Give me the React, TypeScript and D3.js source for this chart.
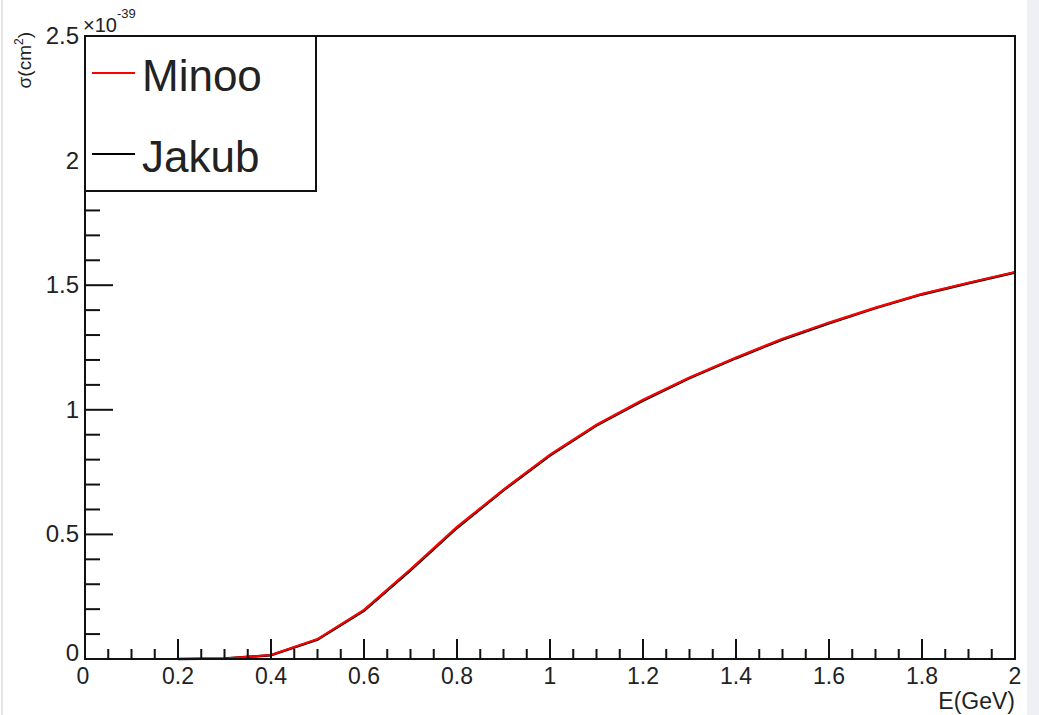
import React from "react";
import * as d3 from "d3";

// cross section vs energy (units of 1e-39 cm^2)
const energy = [0.2, 0.3, 0.4, 0.5, 0.6, 0.7, 0.8, 0.9, 1.0, 1.1, 1.2, 1.3, 1.4, 1.5, 1.6, 1.7, 1.8, 1.9, 2.0];
const minoo = [0, 0.002, 0.016, 0.08, 0.197, 0.36, 0.53, 0.68, 0.82, 0.94, 1.04, 1.13, 1.21, 1.285, 1.35, 1.41, 1.465, 1.51, 1.553];
const jakub = [0, 0.002, 0.015, 0.078, 0.194, 0.356, 0.526, 0.677, 0.817, 0.937, 1.037, 1.127, 1.207, 1.282, 1.347, 1.408, 1.463, 1.508, 1.551];

const xMajor = [0, 0.2, 0.4, 0.6, 0.8, 1, 1.2, 1.4, 1.6, 1.8, 2];
const xLabels = ["0", "0.2", "0.4", "0.6", "0.8", "1", "1.2", "1.4", "1.6", "1.8", "2"];
const yMajor = [0, 0.5, 1, 1.5, 2, 2.5];
const yLabels = ["0", "0.5", "1", "1.5", "2", "2.5"];

const legendItems = [
  { name: "Minoo", color: "#ff0000" },
  { name: "Jakub", color: "#000000" },
];

const W = 1039;
const H = 715;
const left = 85, right = 1015, top = 36, bottom = 659;
const font = "'Liberation Sans', Arial, sans-serif";
const txt = "#222";

export default function App() {
  const x = d3.scaleLinear().domain([0, 2]).range([left, right]);
  const y = d3.scaleLinear().domain([0, 2.5]).range([bottom, top]);

  const xMinor = d3.range(0, 2.0001, 0.05).filter(v => Math.abs(v / 0.2 - Math.round(v / 0.2)) > 1e-6);
  const yMinor = d3.range(0, 2.5001, 0.1).filter(v => Math.abs(v / 0.5 - Math.round(v / 0.5)) > 1e-6);

  const line = d3.line<number>()
    .x((d, i) => x(energy[i]))
    .y(d => y(d))
    .curve(d3.curveLinear);

  return (
    <svg width={W} height={H} style={{ position: "absolute", left: 0, top: 0, background: "#fff" }}>
      {/* screenshot edges */}
      <rect x={1027} y={0} width={12} height={H} fill="#eef0f4" />
      <line x1={2} x2={2} y1={0} y2={H} stroke="#ccc" strokeWidth={1} />

      {/* curves */}
      <path d={line(jakub) || ""} fill="none" stroke="#000" strokeWidth={2.5} />
      <path d={line(minoo) || ""} fill="none" stroke="#ff0000" strokeWidth={2.2} />

      {/* frame */}
      <rect x={left} y={top} width={right - left} height={bottom - top} fill="none" stroke="#111" strokeWidth={2} />

      {/* x ticks */}
      {xMajor.map(v => (
        <line key={"xM" + v} x1={x(v)} x2={x(v)} y1={bottom} y2={bottom - 20} stroke="#111" strokeWidth={2} />
      ))}
      {xMinor.map(v => (
        <line key={"xm" + v} x1={x(v)} x2={x(v)} y1={bottom} y2={bottom - 10} stroke="#111" strokeWidth={2} />
      ))}
      {xMajor.map((v, i) => (
        <text key={"xl" + v} x={x(v) + (i === 0 ? -2 : 0)} y={684} textAnchor="middle"
          fontFamily={font} fontSize={23} fill={txt}>{xLabels[i]}</text>
      ))}

      {/* y ticks */}
      {yMajor.map(v => (
        <line key={"yM" + v} x1={left} x2={left + 28} y1={y(v)} y2={y(v)} stroke="#111" strokeWidth={2} />
      ))}
      {yMinor.map(v => (
        <line key={"ym" + v} x1={left} x2={left + 15} y1={y(v)} y2={y(v)} stroke="#111" strokeWidth={2} />
      ))}
      {yMajor.map((v, i) => (
        <text key={"yl" + v} x={79} y={y(v) + (i === 0 ? 2 : 8)} textAnchor="end"
          fontFamily={font} fontSize={24} fill={txt}>{yLabels[i]}</text>
      ))}

      {/* exponent */}
      <text x={83} y={32} fontFamily={font} fontSize={20} fill={txt}>
        ×10<tspan dy={-14} fontSize={13}>-39</tspan>
      </text>

      {/* axis titles */}
      <text transform="translate(31,32) rotate(-90)" textAnchor="end" fontFamily={font} fontSize={19} fill={txt}>
        σ(cm<tspan dy={-8} fontSize={12}>2</tspan><tspan dy={8}>)</tspan>
      </text>
      <text x={1015} y={709} textAnchor="end" fontFamily={font} fontSize={23} fill={txt}>E(GeV)</text>

      {/* legend */}
      <rect x={left} y={top} width={316 - left} height={191 - top} fill="#fff" stroke="#111" strokeWidth={2} />
      {legendItems.map((d, i) => {
        const ly = [73, 154][i];
        return (
          <g key={d.name}>
            <line x1={92} x2={135} y1={ly} y2={ly} stroke={d.color} strokeWidth={2} />
            <text x={142} y={ly + 18} fontFamily={font} fontSize={44} fill={txt}>{d.name}</text>
          </g>
        );
      })}
    </svg>
  );
}
